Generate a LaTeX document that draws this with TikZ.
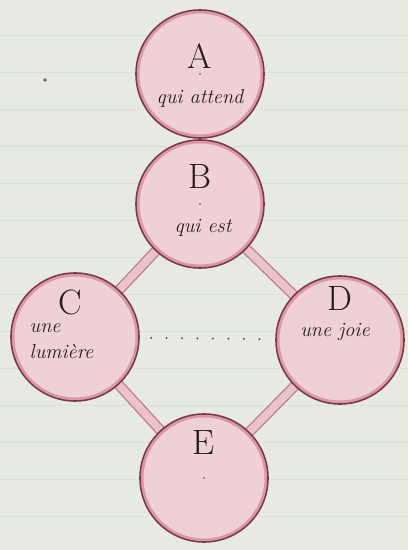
\documentclass[tikz,border=0pt]{standalone}
\usetikzlibrary{backgrounds}
\definecolor{paper}{RGB}{230,234,226}
\definecolor{rule}{RGB}{219,225,218}
\definecolor{blush}{RGB}{238,208,214}
\definecolor{rose}{RGB}{220,150,166}
\definecolor{rim}{RGB}{120,58,68}
\definecolor{band}{RGB}{234,194,201}
\definecolor{ink}{RGB}{35,30,30}
\tikzset{
  x=0.025cm,y=-0.025cm,
  disc/.style={circle,draw=rim,line width=1.1pt,fill=blush,minimum size=3.2cm,
    path picture={\draw[rose,line width=5pt] (path picture bounding box.center) circle (1.6cm);}},
  letter/.style={font=\fontsize{25}{28}\selectfont,text=ink},
  script/.style={font=\Large\itshape,text=ink,align=left,inner sep=1pt},
  link/.style={draw=rose!75!rim,line width=1pt,double=band,double distance=5.5pt},
  dots/.style={draw=ink!75,line width=1.6pt,line cap=round,dash pattern=on 0pt off 11pt},
  pin/.style={ink!60},
}
\begin{document}
\begin{tikzpicture}
  \useasboundingbox (0,0) rectangle (408,550);
  \node[disc] (A) at (200,74) {};
  \node[disc] (B) at (200,204) {};
  \node[disc] (C) at (75,337) {};
  \node[disc] (D) at (340,340) {};
  \node[disc] (E) at (204,478) {};
  \fill[pin] (A.center) circle (0.8pt);
  \fill[pin] (B.center) circle (0.8pt);
  \fill[pin] (E.center) circle (0.8pt);
  \fill[ink!70] (45,80) circle (1.3pt);
  % letters and words
  \node[letter] (la) at (200,56) {A};
  \node[script] (ta) at (200,98) {qui attend};
  \node[letter] (lb) at (200,176) {B};
  \node[script] (tb) at (203,228) {qui est};
  \node[letter] (lc) at (70,302) {C};
  \node[script,anchor=west] (tc) at (28,341) {une\\lumière};
  \node[letter] (ld) at (340,298) {D};
  \node[script] (td) at (335,332) {une joie};
  \node[letter] (le) at (204,443) {E};
  \draw[dots,shorten <=8pt,shorten >=7pt] (C) -- (D);
  \begin{scope}[on background layer]
    \fill[paper] (0,0) rectangle (408,550);
    \foreach \y in {35,72,...,516} \draw[rule,line width=0.6pt] (0,\y) -- (408,\y);
    \draw[link] (B.center) -- (C.center);
    \draw[link] (B.center) -- (D.center);
    \draw[link] (C.center) -- (E.center);
    \draw[link] (D.center) -- (E.center);
  \end{scope}
\end{tikzpicture}
\end{document}
